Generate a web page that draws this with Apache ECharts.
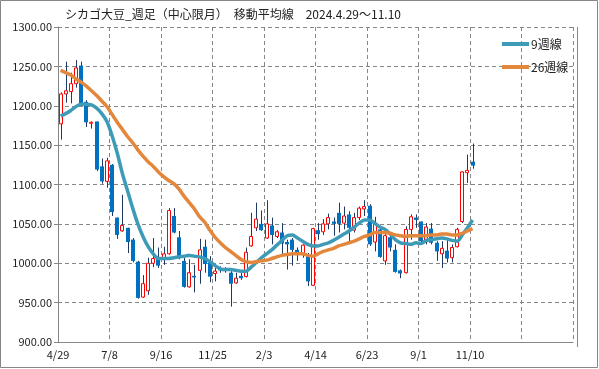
<!DOCTYPE html>
<html><head><meta charset="utf-8">
<script src="https://cdn.jsdelivr.net/npm/echarts@6/dist/echarts.min.js"></script>
<style>html,body{margin:0;padding:0;background:#fff}#c{width:599px;height:369px}</style>
</head><body><div id="c"></div>
<script>
// x-axis tick labels (every 10 weeks, starting 2024/4/29)
const tickLabels = ['4/29','7/8','9/16','11/25','2/3','4/14','6/23','9/1','11/10'];
const totalWeeks = 100;
// weekly OHLC (index 0 = 2024/4/29)
const openV  = [1177,1215,1218,1228,1251,1205,1178,1180,1123,1104,1125,1058,1041,1045,1030,1002,957,965,1000,1008,
                1006,1012,1060,1033,1003,970,984,991,1021,1002,987,994,993,988,975,984,983,1022,1045,1050,
                1032,1048,1034,1039,1027,1030,1017,1011,1011,972,1042,1040,1050,1053,1064,1051,1062,1042,1058,1069,
                1073,1027,1043,1003,1033,1017,991,988,1043,1058,1053,1027,1044,1026,1012,1016,1007,1021,1053,1115,1129];
const closeV = [1215,1219,1228,1248,1203,1179,1179,1119,1104,1130,1065,1036,1048,1027,1003,956,974,1000,1006,997,
                1012,1067,1039,1007,970,988,982,1017,999,983,990,991,990,974,981,981,1014,1034,1056,1042,
                1050,1036,1040,1025,1024,1017,1013,1023,977,1044,1037,1050,1058,1050,1050,1060,1045,1058,1070,1072,
                1024,1050,1008,1035,1020,989,987,1043,1059,1055,1028,1046,1026,1015,1019,1006,1020,1043,1116,1118,1124];
const lowV   = [1157,1204,1203,1223,1202,1173,1171,1117,1101,1096,1060,1031,1040,1013,1001,955,956,960,995,994,
                998,1011,1038,1005,969,969,963,974,988,976,977,988,988,945,974,979,982,1021,1041,1041,
                1031,1024,1032,1011,992,997,1003,1007,971,971,1030,1036,1043,1035,1039,1043,1028,1039,1055,1060,
                1022,1015,1007,998,1015,988,981,987,1030,1045,1024,1024,1024,1003,994,1001,1001,1020,1051,1102,1120];
const highV  = [1217,1256,1242,1258,1256,1207,1180,1180,1133,1134,1126,1058,1087,1045,1032,1003,985,1007,1032,1020,
                1021,1070,1070,1041,1007,1005,998,1031,1030,1009,994,996,995,990,988,990,1020,1064,1077,1067,
                1080,1058,1042,1051,1030,1032,1020,1024,1013,1045,1051,1056,1063,1058,1077,1072,1066,1064,1072,1080,
                1075,1059,1047,1037,1035,1024,992,1047,1062,1062,1053,1051,1051,1028,1028,1030,1024,1045,1117,1138,1152];
// moving averages
const ma9  = [1187,1190,1194,1199,1202,1202,1201,1197,1190,1180,1162,1140,1114,1092,1070,1050,1034,1021,1012,1006,
              1006,1006,1007,1008,1009,1010,1009,1008,1006,1002,997,993,992,992,991,990,990,995,1001,1007,
              1012,1017,1023,1029,1035,1036,1032,1028,1024,1022,1022,1024,1026,1029,1033,1037,1041,1046,1051,1055,
              1055,1051,1046,1043,1037,1030,1026,1025,1024,1026,1025,1029,1030,1031,1032,1031,1029,1028,1036,1045,1055];
const ma26 = [1245,1242,1239,1234,1230,1225,1219,1213,1206,1199,1189,1179,1170,1161,1153,1144,1136,1129,1123,1116,
              1110,1105,1101,1094,1085,1077,1069,1059,1052,1042,1033,1026,1020,1015,1010,1005,1002,1001,1002,1003,
              1004,1006,1008,1010,1011,1012,1012,1012,1010,1009,1012,1015,1017,1019,1022,1024,1026,1028,1031,1034,
              1036,1039,1039,1039,1038,1036,1035,1034,1035,1035,1035,1035,1036,1036,1037,1037,1036,1036,1038,1041,1044];

const categories = Array.from({length: totalWeeks}, (_, i) => String(i));
const candleData = openV.map((o, i) => [i, o, closeV[i], lowV[i], highV[i]]);

function renderCandle(params, api) {
  const i = api.value(0), o = api.value(1), c = api.value(2), l = api.value(3), h = api.value(4);
  const pO = api.coord([i, o]), pC = api.coord([i, c]);
  const yL = api.coord([i, l])[1], yH = api.coord([i, h])[1];
  const r = Math.round(pO[0]);
  const top = Math.min(pO[1], pC[1]), bot = Math.max(pO[1], pC[1]);
  const kids = [{type: 'line', shape: {x1: r + 0.5, y1: yH, x2: r + 0.5, y2: yL},
                 style: {stroke: '#1F3864', lineWidth: 1}}];
  if (c >= o) {
    kids.push({type: 'rect', shape: {x: r - 1.5, y: top, width: 3, height: Math.max(bot - top, 1)},
               style: {fill: '#ffffff', stroke: '#FF0000', lineWidth: 1}});
  } else {
    kids.push({type: 'rect', shape: {x: r - 2, y: top, width: 4, height: Math.max(bot - top, 1.5)},
               style: {fill: '#0070C0'}});
  }
  return {type: 'group', children: kids};
}

const FONT = '"Noto Sans CJK JP", "Noto Sans", sans-serif';
const chart = echarts.init(document.getElementById('c'), null, {renderer: 'canvas'});
chart.setOption({
  animation: false,
  backgroundColor: '#ffffff',
  title: {
    text: 'シカゴ大豆_週足（中心限月）　移動平均線　2024.4.29～11.10',
    left: 60, top: 3,
    textStyle: {fontSize: 12, fontWeight: 'normal', color: '#222', fontFamily: FONT}
  },
  legend: {
    data: ['9週線', '26週線'],
    orient: 'vertical', left: 497, top: 33,
    icon: 'rect', itemWidth: 27, itemHeight: 4, itemGap: 11,
    textStyle: {fontSize: 12, color: '#222', fontFamily: FONT, padding: [0, 0, 0, -3]}
  },
  grid: {left: 58, right: 26, top: 27, bottom: 27},
  xAxis: {
    type: 'category', data: categories, boundaryGap: true,
    axisLine: {lineStyle: {color: '#868686'}},
    axisTick: {interval: 9, length: 4, lineStyle: {color: '#868686'}},
    axisLabel: {interval: 9, margin: 7, fontSize: 11, color: '#222', fontFamily: FONT,
                padding: [0, 5, 0, 0],
                formatter: (v, idx) => tickLabels[Math.round(idx / 10)] || ''},
    splitLine: {show: true, interval: 9, lineStyle: {color: '#868686', type: [4, 3]}}
  },
  yAxis: {
    type: 'value', min: 900, max: 1300, interval: 50,
    axisLine: {show: true, lineStyle: {color: '#868686'}},
    axisTick: {show: true, length: 4, lineStyle: {color: '#868686'}},
    axisLabel: {margin: 6, fontSize: 11, color: '#222', fontFamily: FONT,
                formatter: v => v.toFixed(2)},
    splitLine: {show: true, lineStyle: {color: '#868686', type: [4, 3]}}
  },
  graphic: [
    {type: 'rect', silent: true, z: 100,
     shape: {x: 0.5, y: 0.5, width: 597, height: 367},
     style: {fill: 'none', stroke: '#868686', lineWidth: 1}},
    {type: 'line', silent: true, z: 100,
     shape: {x1: 577.5, y1: 27, x2: 577.5, y2: 347},
     style: {stroke: '#868686', lineWidth: 1}}
  ],
  series: [
    {type: 'custom', name: 'candle', renderItem: renderCandle, data: candleData,
     encode: {x: 0, y: [1, 2, 3, 4]}, z: 2},
    {type: 'line', name: '9週線', data: ma9, smooth: 0.3, symbol: 'none', z: 3,
     itemStyle: {color: '#3E9BB8'}, lineStyle: {width: 3.5, color: '#3E9BB8'}},
    {type: 'line', name: '26週線', data: ma26, smooth: 0.3, symbol: 'none', z: 3,
     itemStyle: {color: '#E3873C'}, lineStyle: {width: 3.5, color: '#E3873C'}}
  ]
});
</script></body></html>
